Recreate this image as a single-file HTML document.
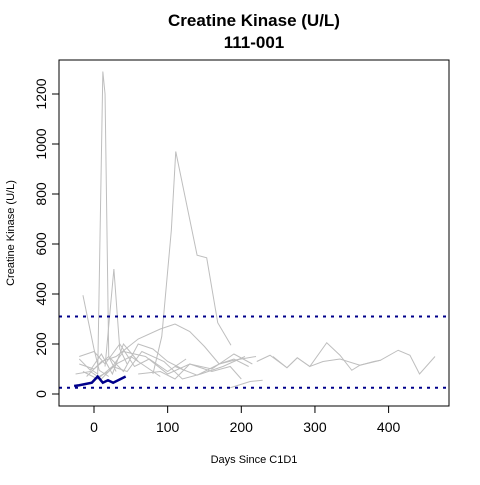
<!DOCTYPE html>
<html><head><meta charset="utf-8"><style>
body{margin:0;background:#fff}
svg text{font-family:"Liberation Sans",Arial,sans-serif}
</style></head><body>
<svg id="chart" width="480" height="480">
<rect width="480" height="480" fill="#fff"/>
<text x="254" y="26" text-anchor="middle" font-size="17" font-weight="bold">Creatine Kinase (U/L)</text>
<text x="254" y="48" text-anchor="middle" font-size="17" font-weight="bold">111-001</text>
<text x="254" y="463" text-anchor="middle" font-size="11">Days Since C1D1</text>
<text transform="translate(14,233) rotate(-90)" text-anchor="middle" font-size="11">Creatine Kinase (U/L)</text>
<g id="gray"></g>
<g id="refs"></g>
<g id="blue"></g>
<g id="axes"></g>
<rect x="59" y="60" width="390" height="346" fill="none" stroke="#000"/>
</svg>
<script>
const xTicks=[0,100,200,300,400];
const yTicks=[0,200,400,600,800,1000,1200];
const refValues=[310,25];
const subjectDays=[-27,-20,-3,5,12,19,26,43];
const subjectCK=[32,35,45,70,45,55,45,70];
const grayDays=[
[-5,5,12,15,20,30],
[80,92,105,111,140,153,168,186],
[-15,0,7,20],
[15,27,35,45],
[221,239,262,276,293,316,334,350,361,389,413,429,442,463],
[243,262,276,293,311,334,361,380,389],
[185,212,229],
[-20,0,20,40,60,80,100,120],
[-25,-5,10,30,50,70,90],
[-10,10,30,60,90,110,130,150,170,190,210],
[-20,0,15,35,55,75,100,125],
[0,20,40,70,100,130,160,190,215],
[-15,5,25,45,65,95,120,145,175,205],
[-20,-5,10,25,40,60],
[60,90,110,130,160,185,200],
[110,140,170,190,220]
];
const grayCK=[
[100,80,1290,1200,150,90],
[80,230,655,970,555,545,285,195],
[395,180,95,70],
[110,500,180,120],
[130,155,105,145,110,205,155,95,115,135,175,155,80,150],
[150,105,145,110,130,140,115,130,135],
[25,50,55],
[120,100,150,90,200,180,130,100],
[80,90,60,120,150,110,70],
[70,130,150,220,260,280,250,190,120,140,110],
[150,170,120,200,110,140,90,140],
[60,90,170,150,80,120,100,160,120],
[90,60,110,90,170,130,60,80,110,150],
[140,95,160,80,200,130],
[80,90,60,120,90,110,60],
[110,75,120,135,150]
];
const X=d=>94+0.7365*d, Y=v=>394-0.25*v;
const ns="http://www.w3.org/2000/svg";
function mk(t,a,p){const e=document.createElementNS(ns,t);for(const k in a)e.setAttribute(k,a[k]);p.appendChild(e);return e;}
const gray=document.getElementById('gray');
grayDays.forEach((ds,i)=>{
 const el=mk('polyline',{points:ds.map((d,j)=>X(d)+','+Y(grayCK[i][j])).join(' '),fill:'none',stroke:'#bebebe','stroke-width':1},gray);
 
 
});
const refs=document.getElementById('refs');
refValues.forEach((v,i)=>{
 const el=mk('line',{x1:59,x2:449,y1:Y(v),y2:Y(v),stroke:'#00008b','stroke-width':2,'stroke-dasharray':'3 5'},refs);
 
 
});
const blue=document.getElementById('blue');
const bl=mk('polyline',{points:subjectDays.map((d,j)=>X(d)+','+Y(subjectCK[j])).join(' '),fill:'none',stroke:'#00008b','stroke-width':2.5},blue);


const axes=document.getElementById('axes');
mk('line',{x1:X(0),x2:X(400),y1:406,y2:406,stroke:'#000'},axes);
xTicks.forEach(t=>{
 mk('line',{x1:X(t),x2:X(t),y1:406,y2:413,stroke:'#000'},axes);
 const tx=mk('text',{x:X(t),y:432,'text-anchor':'middle','font-size':14},axes);tx.textContent=t;
 
 
});
yTicks.forEach(t=>{
 mk('line',{x1:52,x2:59,y1:Y(t),y2:Y(t),stroke:'#000'},axes);
 const tx=mk('text',{transform:`translate(46,${Y(t)}) rotate(-90)`,'text-anchor':'middle','font-size':14},axes);tx.textContent=t;
 
 
});
</script>
</body></html>
